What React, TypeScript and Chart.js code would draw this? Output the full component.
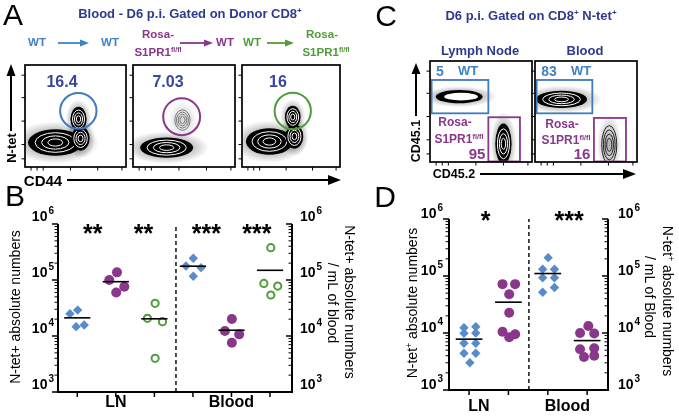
import React, { useEffect, useRef } from 'react';
import { Chart, registerables } from 'chart.js';

Chart.register(...registerables);

const FONT = '"Liberation Sans", Arial, Helvetica, sans-serif';
const NAVY = 'rgb(45,58,140)';
const NUMBER_NAVY = 'rgb(56,70,155)';
const BLUE = 'rgb(88,139,203)';
const BLUE_TEXT = 'rgb(64,128,196)';
const PURPLE = 'rgb(137,55,139)';
const GREEN = 'rgb(78,157,58)';

type Pt = { x: number; y: number };

// ================= Panel B data =================
const bTickValues = [1e3, 1e4, 1e5, 1e6];
const bTickLabels = ['10^3', '10^4', '10^5', '10^6'];
const bCategoryPositions = [1, 2, 3, 4, 5, 6];
const bGroupLabels = ['LN', 'Blood'];
const bGroupLabelPositions = [2, 5];
const bLnWtToWt: Pt[] = [{ x: 0.81, y: 25000 }, { x: 1.01, y: 29000 }, { x: 0.97, y: 14700 }, { x: 1.18, y: 15700 }];
const bLnRosaToWt: Pt[] = [{ x: 1.83, y: 100000 }, { x: 2.03, y: 137000 }, { x: 2.01, y: 60000 }, { x: 2.22, y: 76000 }];
const bLnWtToRosa: Pt[] = [{ x: 3.02, y: 38400 }, { x: 2.82, y: 20700 }, { x: 3.21, y: 18000 }, { x: 3.02, y: 4000 }];
const bBloodWtToWt: Pt[] = [{ x: 4.01, y: 244000 }, { x: 3.82, y: 178000 }, { x: 4.21, y: 166000 }, { x: 4.01, y: 117000 }];
const bBloodRosaToWt: Pt[] = [{ x: 5.01, y: 20100 }, { x: 4.83, y: 12300 }, { x: 5.2, y: 10700 }, { x: 5.01, y: 7600 }];
const bBloodWtToRosa: Pt[] = [{ x: 6.02, y: 377000 }, { x: 5.84, y: 87000 }, { x: 6.2, y: 78000 }, { x: 6.02, y: 54000 }];
const bStarLabels = ['**', '**', '***', '***'];
const bStarPositions = [1.4, 2.72, 4.35, 5.66];
const bStarLevel = 8.5e5;
const bSeparatorPosition = 3.56;

// ================= Panel D data =================
const dTickValues = [1e3, 1e4, 1e5, 1e6];
const dTickLabels = ['10^3', '10^4', '10^5', '10^6'];
const dCategoryPositions = [1, 2, 3, 4];
const dGroupLabels = ['LN', 'Blood'];
const dGroupLabelPositions = [1.25, 3.5];
const dLnWt: Pt[] = [
  { x: 0.87, y: 12400 }, { x: 1.17, y: 12900 }, { x: 0.87, y: 9900 }, { x: 1.17, y: 10000 },
  { x: 0.87, y: 6600 }, { x: 1.17, y: 6600 }, { x: 0.87, y: 4400 }, { x: 1.17, y: 4400 }, { x: 1.02, y: 3000 },
];
const dLnRosa: Pt[] = [
  { x: 1.85, y: 72000 }, { x: 2.17, y: 72000 }, { x: 2.02, y: 48000 }, { x: 2.02, y: 22700 },
  { x: 1.85, y: 10500 }, { x: 2.17, y: 9500 }, { x: 2.02, y: 8400 },
];
const dBloodWt: Pt[] = [
  { x: 3.01, y: 210000 }, { x: 2.87, y: 131000 }, { x: 3.17, y: 131000 }, { x: 2.87, y: 93000 },
  { x: 3.17, y: 93000 }, { x: 2.87, y: 52000 }, { x: 3.17, y: 63000 },
];
const dBloodRosa: Pt[] = [
  { x: 4.03, y: 13300 }, { x: 3.82, y: 10000 }, { x: 4.18, y: 9800 }, { x: 3.82, y: 5200 },
  { x: 4.18, y: 5400 }, { x: 3.92, y: 3800 }, { x: 4.18, y: 4000 },
];
const dStarLabels = ['*', '***'];
const dStarPositions = [1.42, 3.54];
const dStarLevel = 1.18e6;
const dSeparatorPosition = 2.52;

// ================= Panels A and C (flow plots, axis units 0..100) =================
type Pop = { cx: number; cy: number; rx: number; ry: number; kind: 'dense' | 'hollow' | 'outline' | 'faint' };
type EllGate = { cx: number; cy: number; rx: number; ry: number };
type RectGate = { x0: number; x1: number; y0: number; y1: number };

const aWtToWtPops: Pop[] = [
  { cx: 30, cy: 24, rx: 27, ry: 13, kind: 'dense' },
  { cx: 55, cy: 28, rx: 9, ry: 12, kind: 'dense' },
  { cx: 53, cy: 47, rx: 8, ry: 12, kind: 'dense' },
];
const aWtToWtGate: EllGate = { cx: 52.8, cy: 55, rx: 18, ry: 17.5 };
const aRosaToWtPops: Pop[] = [
  { cx: 33, cy: 19, rx: 26, ry: 10, kind: 'dense' },
  { cx: 48.5, cy: 46, rx: 7.5, ry: 10, kind: 'faint' },
];
const aRosaToWtGate: EllGate = { cx: 47.7, cy: 49.3, rx: 18.1, ry: 18.1 };
const aWtToRosaPops: Pop[] = [
  { cx: 28, cy: 25, rx: 24, ry: 13, kind: 'dense' },
  { cx: 53.5, cy: 30, rx: 9, ry: 12, kind: 'dense' },
  { cx: 51.8, cy: 49, rx: 8, ry: 11, kind: 'dense' },
];
const aWtToRosaGate: EllGate = { cx: 51.8, cy: 54.9, rx: 18.5, ry: 18 };
const aGatePercents = ['16.4', '7.03', '16'];

const cLnPops: Pop[] = [
  { cx: 28.6, cy: 64.7, rx: 23, ry: 6.5, kind: 'hollow' },
  { cx: 72, cy: 18, rx: 8, ry: 20, kind: 'dense' },
];
const cLnWtGate: RectGate = { x0: 1.6, x1: 57.2, y0: 48.2, y1: 81.2 };
const cLnRosaGate: RectGate = { x0: 57.2, x1: 88.2, y0: 0.5, y1: 44.3 };
const cBloodPops: Pop[] = [
  { cx: 26, cy: 62, rx: 25, ry: 8.5, kind: 'dense' },
  { cx: 72.8, cy: 17, rx: 7.4, ry: 19, kind: 'outline' },
];
const cBloodWtGate: RectGate = { x0: 1.6, x1: 56.2, y0: 48.2, y1: 81.2 };
const cBloodRosaGate: RectGate = { x0: 57.8, x1: 89.2, y0: 0.5, y1: 43.6 };
const cWtPercents = ['5', '83'];
const cRosaPercents = ['95', '16'];
const facsTicksX = [6, 12, 18, 45, 72, 96];
const facsTicksY = [8, 22, 45, 68, 90];

// ================= helpers =================
function ChartCanvas({ left, top, width, height, make }: { left: number; top: number; width: number; height: number; make: () => any }) {
  const ref = useRef<HTMLCanvasElement>(null);
  useEffect(() => {
    const chart = new Chart(ref.current as HTMLCanvasElement, make());
    return () => chart.destroy();
  }, []);
  return <canvas ref={ref} width={width} height={height} style={{ position: 'absolute', left, top, width, height }} />;
}

type SeriesSpec = { data: Pt[]; marker: 'diamond' | 'dot' | 'ring'; color: string; center: number };
type DotSpec = {
  series: SeriesSpec[];
  xMin: number; xMax: number;
  padding: { left: number; top: number; right: number; bottom: number };
  categoryPositions: number[];
  tickValues: number[]; tickLabels: string[];
  groupLabels: string[]; groupLabelPositions: number[]; groupLabelOffset: number;
  starLabels: string[]; starPositions: number[]; starLevel: number;
  separator: number;
  gapLeft: number; gapRight: number; labelDy: number;
};

function markerStyle(s: SeriesSpec) {
  if (s.marker === 'diamond') return { pointStyle: 'rectRot', pointRadius: 4.7, backgroundColor: s.color, borderColor: s.color, borderWidth: 0 };
  if (s.marker === 'dot') return { pointStyle: 'circle', pointRadius: 5, backgroundColor: s.color, borderColor: s.color, borderWidth: 0 };
  return { pointStyle: 'circle', pointRadius: 3.6, backgroundColor: 'rgba(255,255,255,0)', borderColor: s.color, borderWidth: 2 };
}

function makeDotConfig(spec: DotSpec) {
  const datasets: any[] = [];
  spec.series.forEach((s) => {
    const m = s.data.reduce((a, p) => a + p.y, 0) / s.data.length;
    datasets.push({
      data: [{ x: s.center - 0.34, y: m }, { x: s.center + 0.34, y: m }],
      showLine: true, borderColor: '#000', borderWidth: 1.6, pointRadius: 0, fill: false,
    });
  });
  datasets.push({
    data: [{ x: spec.separator, y: spec.tickValues[0] }, { x: spec.separator, y: spec.tickValues[spec.tickValues.length - 1] }],
    showLine: true, borderColor: '#222', borderWidth: 1.6, borderDash: [4, 3], pointRadius: 0, fill: false,
  });
  spec.series.forEach((s) => datasets.push({ data: s.data, showLine: false, ...markerStyle(s) }));

  const axes = {
    id: 'dotAxes',
    afterDraw(chart: any) {
      const { ctx, chartArea: ca, scales } = chart;
      const xs = scales.x, ys = scales.y;
      ctx.save();
      ctx.strokeStyle = '#000';
      ctx.fillStyle = '#000';
      ctx.lineWidth = 2;
      ctx.beginPath();
      ctx.moveTo(ca.left, ca.top); ctx.lineTo(ca.left, ca.bottom + 1);
      ctx.moveTo(ca.left - 1, ca.bottom); ctx.lineTo(ca.right + 1, ca.bottom);
      ctx.moveTo(ca.right, ca.bottom + 1); ctx.lineTo(ca.right, ca.top);
      ctx.stroke();
      const lo = Math.round(Math.log10(spec.tickValues[0]));
      const hi = Math.round(Math.log10(spec.tickValues[spec.tickValues.length - 1]));
      for (let d = lo; d <= hi; d++) {
        for (let k = 1; k <= 9; k++) {
          if (d === hi && k > 1) break;
          const y = ys.getPixelForValue(k * Math.pow(10, d));
          const major = k === 1;
          ctx.lineWidth = major ? 1.6 : 1;
          const len = major ? 6 : 3.5;
          ctx.beginPath();
          ctx.moveTo(ca.left - len, y); ctx.lineTo(ca.left, y);
          ctx.moveTo(ca.right, y); ctx.lineTo(ca.right - len, y);
          ctx.stroke();
        }
      }
      ctx.lineWidth = 1.5;
      spec.categoryPositions.forEach((c) => {
        const x = xs.getPixelForValue(c);
        ctx.beginPath(); ctx.moveTo(x, ca.bottom); ctx.lineTo(x, ca.bottom + 5); ctx.stroke();
      });
      ctx.textBaseline = 'alphabetic';
      ctx.textAlign = 'left';
      spec.tickValues.forEach((v, i) => {
        const y = ys.getPixelForValue(v) + spec.labelDy;
        const [base, exp] = spec.tickLabels[i].split('^');
        ctx.font = `bold 14px ${FONT}`;
        const bw = ctx.measureText(base).width;
        ctx.font = `bold 10px ${FONT}`;
        const ew = ctx.measureText(exp).width;
        const xr = ca.left - spec.gapLeft;
        ctx.font = `bold 14px ${FONT}`; ctx.fillText(base, xr - ew - bw - 1, y);
        ctx.font = `bold 10px ${FONT}`; ctx.fillText(exp, xr - ew, y - 7);
        const xl = ca.right + spec.gapRight;
        ctx.font = `bold 14px ${FONT}`; ctx.fillText(base, xl, y);
        ctx.font = `bold 10px ${FONT}`; ctx.fillText(exp, xl + bw + 1, y - 7);
      });
      ctx.textAlign = 'center';
      ctx.font = `bold 16px ${FONT}`;
      spec.groupLabels.forEach((g, i) => {
        ctx.fillText(g, xs.getPixelForValue(spec.groupLabelPositions[i]), ca.bottom + spec.groupLabelOffset);
      });
      ctx.font = `bold 25px ${FONT}`;
      spec.starLabels.forEach((s, i) => {
        ctx.fillText(s, xs.getPixelForValue(spec.starPositions[i]), ys.getPixelForValue(spec.starLevel) + 0.57 * 25);
      });
      ctx.restore();
    },
  };

  return {
    type: 'scatter',
    data: { datasets },
    options: {
      animation: false,
      responsive: false,
      events: [],
      layout: { padding: spec.padding },
      plugins: { legend: { display: false }, tooltip: { enabled: false } },
      scales: {
        x: { type: 'linear', min: spec.xMin, max: spec.xMax, display: false },
        y: { type: 'logarithmic', min: spec.tickValues[0], max: spec.tickValues[spec.tickValues.length - 1], display: false },
      },
    },
    plugins: [axes],
  };
}

type FacsSpec = { pops: Pop[]; ellGates: { g: EllGate; color: string }[]; rectGates: { g: RectGate; color: string }[] };

function ellipse(ctx: any, cx: number, cy: number, rx: number, ry: number) {
  ctx.beginPath();
  ctx.ellipse(cx, cy, Math.max(rx, 0.1), Math.max(ry, 0.1), 0, 0, Math.PI * 2);
}

function makeFacsConfig(spec: FacsSpec) {
  const draw = {
    id: 'facsDraw',
    afterDraw(chart: any) {
      const { ctx, chartArea: ca, scales } = chart;
      const xs = scales.x, ys = scales.y;
      const P = (p: { cx: number; cy: number; rx: number; ry: number }) => {
        const cx = xs.getPixelForValue(p.cx);
        const cy = ys.getPixelForValue(p.cy);
        return { cx, cy, rx: Math.abs(xs.getPixelForValue(p.cx + p.rx) - cx), ry: Math.abs(ys.getPixelForValue(p.cy + p.ry) - cy) };
      };
      ctx.save();
      ctx.beginPath();
      ctx.rect(ca.left, ca.top, ca.right - ca.left, ca.bottom - ca.top);
      ctx.clip();
      for (const p of spec.pops) {
        const e = P(p);
        const h = p.kind === 'faint' ? 1.9 : 1.6;
        const a = p.kind === 'faint' ? 0.16 : p.kind === 'outline' ? 0.3 : 0.42;
        ctx.save();
        ctx.translate(e.cx, e.cy);
        ctx.scale(e.rx * h, e.ry * h);
        const g = ctx.createRadialGradient(0, 0, 0, 0, 0, 1);
        g.addColorStop(0, `rgba(0,0,0,${a})`);
        g.addColorStop(0.6, `rgba(0,0,0,${a * 0.55})`);
        g.addColorStop(1, 'rgba(0,0,0,0)');
        ctx.fillStyle = g;
        ctx.beginPath(); ctx.arc(0, 0, 1, 0, Math.PI * 2); ctx.fill();
        ctx.restore();
      }
      for (const p of spec.pops) {
        const e = P(p);
        if (p.kind === 'dense') {
          ctx.fillStyle = '#000';
          ellipse(ctx, e.cx, e.cy, e.rx, e.ry); ctx.fill();
          ctx.strokeStyle = '#fff'; ctx.lineWidth = 1;
          [0.74, 0.5, 0.27].forEach((s) => { ellipse(ctx, e.cx, e.cy, e.rx * s, e.ry * s); ctx.stroke(); });
        } else if (p.kind === 'hollow') {
          ctx.fillStyle = '#000';
          ellipse(ctx, e.cx, e.cy, e.rx, e.ry); ctx.fill();
          ctx.fillStyle = '#fff';
          ellipse(ctx, e.cx + e.rx * 0.08, e.cy, e.rx * 0.72, e.ry * 0.58); ctx.fill();
        } else {
          ctx.strokeStyle = p.kind === 'faint' ? '#777' : '#222';
          ctx.lineWidth = 1;
          [1, 0.78, 0.56, 0.34].forEach((s) => { ellipse(ctx, e.cx, e.cy, e.rx * s, e.ry * s); ctx.stroke(); });
        }
      }
      ctx.lineWidth = 2;
      for (const eg of spec.ellGates) {
        const e = P(eg.g);
        ctx.strokeStyle = eg.color;
        ellipse(ctx, e.cx, e.cy, e.rx, e.ry); ctx.stroke();
      }
      ctx.lineWidth = 1.8;
      for (const rg of spec.rectGates) {
        const x0 = xs.getPixelForValue(rg.g.x0), x1 = xs.getPixelForValue(rg.g.x1);
        const y0 = ys.getPixelForValue(rg.g.y0), y1 = ys.getPixelForValue(rg.g.y1);
        ctx.strokeStyle = rg.color;
        ctx.strokeRect(Math.min(x0, x1), Math.min(y0, y1), Math.abs(x1 - x0), Math.abs(y1 - y0));
      }
      ctx.restore();
      ctx.save();
      ctx.strokeStyle = '#000';
      ctx.lineWidth = 1.7;
      ctx.strokeRect(ca.left, ca.top, ca.right - ca.left, ca.bottom - ca.top);
      ctx.lineWidth = 1;
      ctx.beginPath();
      facsTicksY.forEach((t) => { const y = ys.getPixelForValue(t); ctx.moveTo(ca.left - 3.5, y); ctx.lineTo(ca.left, y); });
      facsTicksX.forEach((t) => { const x = xs.getPixelForValue(t); ctx.moveTo(x, ca.bottom); ctx.lineTo(x, ca.bottom + 3.5); });
      ctx.stroke();
      ctx.restore();
    },
  };
  return {
    type: 'scatter',
    data: { datasets: [] },
    options: {
      animation: false,
      responsive: false,
      events: [],
      layout: { padding: { left: 5, top: 2, right: 2, bottom: 5 } },
      plugins: { legend: { display: false }, tooltip: { enabled: false } },
      scales: {
        x: { type: 'linear', min: 0, max: 100, display: false },
        y: { type: 'linear', min: 0, max: 100, display: false },
      },
    },
    plugins: [draw],
  };
}

function FacsBox({ x0, y0, x1, y1, spec }: { x0: number; y0: number; x1: number; y1: number; spec: FacsSpec }) {
  return <ChartCanvas left={x0 - 5} top={y0 - 2} width={x1 - x0 + 7} height={y1 - y0 + 7} make={() => makeFacsConfig(spec)} />;
}

function T({ x, y, s = 13, c = '#000', w = 700, r = 0, children }: any) {
  return (
    <div
      style={{
        position: 'absolute', left: x, top: y,
        transform: `translate(-50%, -50%) rotate(${r}deg)`,
        fontFamily: FONT, fontSize: s, fontWeight: w, color: c, lineHeight: 1, whiteSpace: 'nowrap',
      }}
    >
      {children}
    </div>
  );
}

const Sup = ({ children }: any) => (
  <sup style={{ fontSize: '0.62em', verticalAlign: '0.55em', lineHeight: 0 }}>{children}</sup>
);

function Arrow({ x1, y1, x2, y2, c = '#000', w = 1.8, hl = 9, hw = 3.5 }: any) {
  const dx = x2 - x1, dy = y2 - y1;
  const L = Math.hypot(dx, dy);
  const ux = dx / L, uy = dy / L;
  const bx = x2 - ux * hl, by = y2 - uy * hl;
  const px = -uy * hw, py = ux * hw;
  return (
    <g>
      <line x1={x1} y1={y1} x2={bx + ux} y2={by + uy} stroke={c} strokeWidth={w} />
      <polygon points={`${x2},${y2} ${bx + px},${by + py} ${bx - px},${by - py}`} fill={c} />
    </g>
  );
}

export default function App() {
  const bSpec: DotSpec = {
    series: [
      { data: bLnWtToWt, marker: 'diamond', color: BLUE, center: bCategoryPositions[0] },
      { data: bLnRosaToWt, marker: 'dot', color: PURPLE, center: bCategoryPositions[1] },
      { data: bLnWtToRosa, marker: 'ring', color: GREEN, center: bCategoryPositions[2] },
      { data: bBloodWtToWt, marker: 'diamond', color: BLUE, center: bCategoryPositions[3] },
      { data: bBloodRosaToWt, marker: 'dot', color: PURPLE, center: bCategoryPositions[4] },
      { data: bBloodWtToRosa, marker: 'ring', color: GREEN, center: bCategoryPositions[5] },
    ],
    xMin: 0.5, xMax: 6.57,
    padding: { left: 58, top: 34, right: 53, bottom: 24 },
    categoryPositions: bCategoryPositions,
    tickValues: bTickValues, tickLabels: bTickLabels,
    groupLabels: bGroupLabels, groupLabelPositions: bGroupLabelPositions, groupLabelOffset: 15,
    starLabels: bStarLabels, starPositions: bStarPositions, starLevel: bStarLevel,
    separator: bSeparatorPosition,
    gapLeft: 4, gapRight: 8, labelDy: -3.5,
  };
  const dSpec: DotSpec = {
    series: [
      { data: dLnWt, marker: 'diamond', color: BLUE, center: dCategoryPositions[0] },
      { data: dLnRosa, marker: 'dot', color: PURPLE, center: dCategoryPositions[1] },
      { data: dBloodWt, marker: 'diamond', color: BLUE, center: dCategoryPositions[2] },
      { data: dBloodRosa, marker: 'dot', color: PURPLE, center: dCategoryPositions[3] },
    ],
    xMin: 0.49, xMax: 4.53,
    padding: { left: 104, top: 29, right: 71, bottom: 26 },
    categoryPositions: dCategoryPositions,
    tickValues: dTickValues, tickLabels: dTickLabels,
    groupLabels: dGroupLabels, groupLabelPositions: dGroupLabelPositions, groupLabelOffset: 21,
    starLabels: dStarLabels, starPositions: dStarPositions, starLevel: dStarLevel,
    separator: dSeparatorPosition,
    gapLeft: 6, gapRight: 10, labelDy: -1,
  };

  return (
    <div style={{ position: 'absolute', left: 0, top: 0, width: 679, height: 416, background: '#fff', overflow: 'hidden' }}>
      {/* Panel A flow plots */}
      <FacsBox x0={25} y0={65} x1={126} y1={167} spec={{ pops: aWtToWtPops, ellGates: [{ g: aWtToWtGate, color: 'rgb(62,122,192)' }], rectGates: [] }} />
      <FacsBox x0={133} y0={65} x1={235} y1={167} spec={{ pops: aRosaToWtPops, ellGates: [{ g: aRosaToWtGate, color: PURPLE }], rectGates: [] }} />
      <FacsBox x0={242} y0={65} x1={340} y1={167} spec={{ pops: aWtToRosaPops, ellGates: [{ g: aWtToRosaGate, color: GREEN }], rectGates: [] }} />
      {/* Panel C flow plots */}
      <FacsBox x0={430} y0={61} x1={532} y1={162} spec={{ pops: cLnPops, ellGates: [], rectGates: [{ g: cLnWtGate, color: 'rgb(62,122,192)' }, { g: cLnRosaGate, color: PURPLE }] }} />
      <FacsBox x0={535} y0={61} x1={637} y1={162} spec={{ pops: cBloodPops, ellGates: [], rectGates: [{ g: cBloodWtGate, color: 'rgb(62,122,192)' }, { g: cBloodRosaGate, color: PURPLE }] }} />
      {/* Panel B and D dot plots */}
      <ChartCanvas left={0} top={190} width={345} height={226} make={() => makeDotConfig(bSpec)} />
      <ChartCanvas left={345} top={190} width={334} height={226} make={() => makeDotConfig(dSpec)} />

      <svg style={{ position: 'absolute', left: 0, top: 0 }} width={679} height={416}>
        <Arrow x1={58} y1={43} x2={89} y2={43} c={BLUE_TEXT} w={1.8} />
        <Arrow x1={180} y1={43} x2={213} y2={43} c={PURPLE} w={1.8} />
        <Arrow x1={267} y1={43} x2={294} y2={43} c={GREEN} w={1.8} />
        <Arrow x1={11} y1={131} x2={11} y2={64} w={2} hl={12} hw={4.5} />
        <Arrow x1={67} y1={180} x2={341} y2={180} w={2} hl={13} hw={5} />
        <Arrow x1={416} y1={116} x2={416} y2={63} w={2} hl={11} hw={4.5} />
        <Arrow x1={480} y1={174} x2={636} y2={174} w={2} hl={13} hw={5} />
      </svg>

      {/* Panel letters */}
      <T x={13} y={15} s={30} w={400}>A</T>
      <T x={15} y={196} s={30} w={400}>B</T>
      <T x={386} y={16} s={30} w={400}>C</T>
      <T x={385} y={197} s={30} w={400}>D</T>

      {/* Panel A texts */}
      <T x={190} y={13} s={13} c={NAVY}>Blood - D6 p.i. Gated on Donor CD8<Sup>+</Sup></T>
      <T x={37} y={43} s={11.5} c={BLUE_TEXT}>WT</T>
      <T x={110} y={43} s={11.5} c={BLUE_TEXT}>WT</T>
      <T x={158} y={35} s={11.5} c={PURPLE}>Rosa-</T>
      <T x={158} y={53} s={11.5} c={PURPLE}>S1PR1<Sup>fl/fl</Sup></T>
      <T x={225} y={43} s={11.5} c={PURPLE}>WT</T>
      <T x={252} y={43} s={11.5} c={GREEN}>WT</T>
      <T x={322} y={35} s={11.5} c={GREEN}>Rosa-</T>
      <T x={326} y={53} s={11.5} c={GREEN}>S1PR1<Sup>fl/fl</Sup></T>
      <T x={62} y={82} s={16} c={NUMBER_NAVY}>{aGatePercents[0]}</T>
      <T x={168} y={82} s={16} c={NUMBER_NAVY}>{aGatePercents[1]}</T>
      <T x={278} y={82} s={16} c={NUMBER_NAVY}>{aGatePercents[2]}</T>
      <T x={11} y={148} s={13} r={-90}>N-tet</T>
      <T x={43} y={180} s={15}>CD44</T>

      {/* Panel C texts */}
      <T x={531} y={15} s={13} c={NAVY}>D6 p.i. Gated on CD8<Sup>+</Sup> N-tet<Sup>+</Sup></T>
      <T x={480} y={50} s={13} c={NAVY}>Lymph Node</T>
      <T x={585} y={50} s={13} c={NAVY}>Blood</T>
      <T x={440} y={71} s={14} c={BLUE_TEXT}>{cWtPercents[0]}</T>
      <T x={468} y={70} s={13} c={BLUE_TEXT}>WT</T>
      <T x={549} y={71} s={14} c={BLUE_TEXT}>{cWtPercents[1]}</T>
      <T x={581} y={70} s={13} c={BLUE_TEXT}>WT</T>
      <T x={455} y={122} s={12} c={PURPLE}>Rosa-</T>
      <T x={459} y={139} s={12} c={PURPLE}>S1PR1<Sup>fl/fl</Sup></T>
      <T x={477} y={153} s={15} c={PURPLE}>{cRosaPercents[0]}</T>
      <T x={562} y={124} s={12} c={PURPLE}>Rosa-</T>
      <T x={566} y={140} s={12} c={PURPLE}>S1PR1<Sup>fl/fl</Sup></T>
      <T x={582} y={153} s={15} c={PURPLE}>{cRosaPercents[1]}</T>
      <T x={416} y={141} s={12.5} r={-90}>CD45.1</T>
      <T x={454} y={174} s={12.5}>CD45.2</T>

      {/* Panel B axis titles */}
      <T x={15} y={307} s={14} w={400} r={-90}>N-tet+ absolute numbers</T>
      <T x={350} y={302} s={14} w={400} r={90}>N-tet+ absolute numbers</T>
      <T x={333} y={303} s={14} w={400} r={90}>/ mL of blood</T>

      {/* Panel D axis titles */}
      <T x={412} y={303} s={14} w={400} r={-90}>N-tet<Sup>+</Sup> absolute numbers</T>
      <T x={668} y={301} s={14} w={400} r={90}>N-tet<Sup>+</Sup> absolute numbers</T>
      <T x={650} y={297} s={14} w={400} r={90}>/ mL of Blood</T>
    </div>
  );
}
